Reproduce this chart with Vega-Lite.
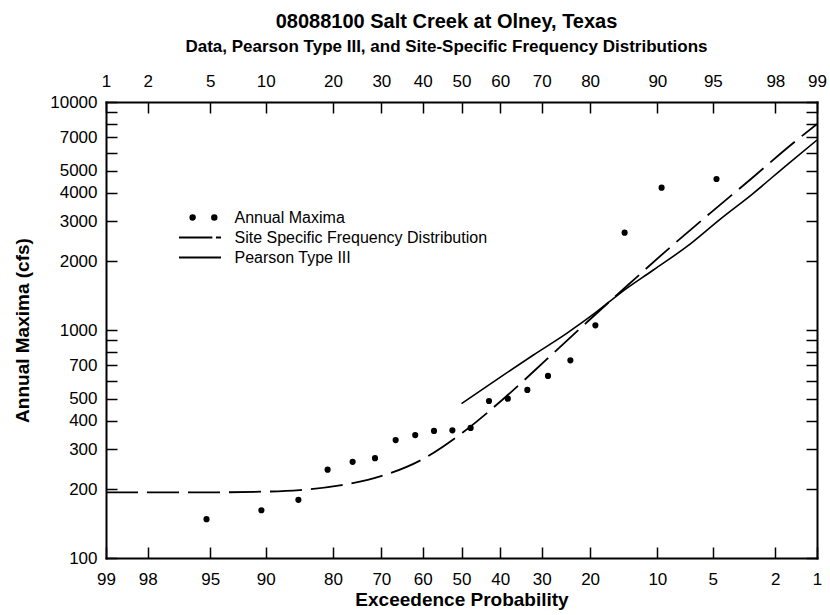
{
  "$schema": "https://vega.github.io/schema/vega-lite/v6.json",
  "width": 711,
  "height": 456,
  "autosize": {"type": "none"},
  "padding": {"left": 106, "top": 102, "right": 13, "bottom": 57},
  "background": "white",
  "title": {
    "text": "08088100 Salt Creek at Olney, Texas",
    "subtitle": "Data, Pearson Type III, and Site-Specific Frequency Distributions",
    "font": "Liberation Sans",
    "fontSize": 20,
    "fontWeight": "bold",
    "color": "black",
    "subtitleFont": "Liberation Sans",
    "subtitleFontSize": 17,
    "subtitleFontWeight": "bold",
    "subtitleColor": "black",
    "subtitlePadding": 7,
    "anchor": "middle",
    "dx": -15,
    "offset": 17
  },
  "config": {
    "view": {"stroke": null},
    "axis": {
      "domainColor": "black",
      "domainWidth": 2,
      "domainCap": "square",
      "tickColor": "black",
      "tickWidth": 1.5,
      "tickSize": -11,
      "grid": false,
      "labelFont": "Liberation Sans",
      "labelFontSize": 17,
      "labelColor": "black",
      "labelOverlap": false,
      "labelFlush": false,
      "titleFont": "Liberation Sans",
      "titleFontSize": 19,
      "titleFontWeight": "bold",
      "titleColor": "black"
    }
  },
  "datasets": {
    "maxima": [
      {"series": "Annual Maxima", "p": 95.24, "q": 148},
      {"series": "Annual Maxima", "p": 90.48, "q": 162},
      {"series": "Annual Maxima", "p": 85.71, "q": 180},
      {"series": "Annual Maxima", "p": 80.95, "q": 244},
      {"series": "Annual Maxima", "p": 76.19, "q": 264},
      {"series": "Annual Maxima", "p": 71.43, "q": 274},
      {"series": "Annual Maxima", "p": 66.67, "q": 329},
      {"series": "Annual Maxima", "p": 61.90, "q": 346},
      {"series": "Annual Maxima", "p": 57.14, "q": 361},
      {"series": "Annual Maxima", "p": 52.38, "q": 363},
      {"series": "Annual Maxima", "p": 47.62, "q": 372},
      {"series": "Annual Maxima", "p": 42.86, "q": 488},
      {"series": "Annual Maxima", "p": 38.10, "q": 500},
      {"series": "Annual Maxima", "p": 33.33, "q": 546},
      {"series": "Annual Maxima", "p": 28.57, "q": 629},
      {"series": "Annual Maxima", "p": 23.81, "q": 736},
      {"series": "Annual Maxima", "p": 19.05, "q": 1048},
      {"series": "Annual Maxima", "p": 14.29, "q": 2672},
      {"series": "Annual Maxima", "p": 9.52, "q": 4209},
      {"series": "Annual Maxima", "p": 4.76, "q": 4596}
    ],
    "legend": [
      {"series": "Annual Maxima"},
      {"series": "Site Specific Frequency Distribution"},
      {"series": "Pearson Type III"}
    ],
    "site": [
      {"p": 99, "q": 194},
      {"p": 95.65, "q": 194},
      {"p": 89.5, "q": 195.7},
      {"p": 85.5, "q": 198.5},
      {"p": 78.7, "q": 208},
      {"p": 69.9, "q": 229},
      {"p": 59.9, "q": 272},
      {"p": 49.6, "q": 356},
      {"p": 39.3, "q": 497},
      {"p": 29.0, "q": 739},
      {"p": 20.6, "q": 1081},
      {"p": 13.8, "q": 1575},
      {"p": 8.72, "q": 2282},
      {"p": 5.2, "q": 3249},
      {"p": 2.91, "q": 4596},
      {"p": 1.535, "q": 6525},
      {"p": 1.0, "q": 8009}
    ],
    "pearson": [
      {"p": 50, "q": 475},
      {"p": 40.05, "q": 620},
      {"p": 31.9, "q": 777},
      {"p": 24.56, "q": 967},
      {"p": 18.8, "q": 1203},
      {"p": 14.98, "q": 1449},
      {"p": 10.47, "q": 1833},
      {"p": 7.03, "q": 2320},
      {"p": 4.535, "q": 3059},
      {"p": 2.81, "q": 3978},
      {"p": 1.666, "q": 5292},
      {"p": 1.0, "q": 6813}
    ]
  },
  "layer": [
    {
      "data": {"name": "maxima"},
      "transform": [{"calculate": "quantileNormal(1 - datum.p / 100)", "as": "z"}],
      "mark": {"type": "point", "filled": true, "color": "black", "opacity": 1, "size": 38, "shape": "circle"},
      "encoding": {
        "x": {
          "field": "z", "type": "quantitative",
          "scale": {"domain": [-2.3263478740408408, 2.3263478740408408], "nice": false, "zero": false},
          "axis": {
            "orient": "bottom",
            "values": [-2.3263478740408408, -2.053748910631823, -1.6448536269514729, -1.2815515655446004, -0.8416212335729142, -0.5244005127080407, -0.2533471031357997, 0, 0.2533471031357997, 0.5244005127080407, 0.8416212335729142, 1.2815515655446004, 1.6448536269514729, 2.053748910631823, 2.3263478740408408],
            "labelExpr": "'' + round(100 - 100 * cumulativeNormal(datum.value))",
            "labelPadding": 24,
            "title": "Exceedence Probability",
            "titleX": 355.5,
            "titleY": 47,
            "titleBaseline": "alphabetic"
          }
        },
        "y": {
          "field": "q", "type": "quantitative",
          "scale": {"type": "log", "domain": [100, 10000], "nice": false},
          "axis": {
            "orient": "left",
            "values": [100, 200, 300, 400, 500, 600, 700, 800, 900, 1000, 2000, 3000, 4000, 5000, 6000, 7000, 8000, 9000, 10000],
            "labelExpr": "indexof([600, 800, 900, 6000, 8000, 9000], datum.value) >= 0 ? '' : '' + datum.value",
            "labelPadding": 20,
            "title": "Annual Maxima (cfs)",
            "titleX": -84,
            "titleY": 228,
            "titleBaseline": "middle",
            "titleAngle": -90
          }
        }
      }
    },
    {
      "data": {"name": "legend"},
      "transform": [{"filter": "false"}],
      "mark": {"type": "point", "filled": false, "color": "black", "opacity": 1, "strokeWidth": 1.8},
      "encoding": {
        "shape": {
          "field": "series", "type": "nominal",
          "scale": {
            "domain": ["Annual Maxima", "Site Specific Frequency Distribution", "Pearson Type III"],
            "range": [
              "M-0.92,0a0.22,0.22 0 1,0 0.44,0a0.22,0.22 0 1,0 -0.44,0ZM-0.8,0a0.1,0.1 0 1,0 0.2,0a0.1,0.1 0 1,0 -0.2,0ZM1.14,0a0.22,0.22 0 1,0 0.44,0a0.22,0.22 0 1,0 -0.44,0ZM1.26,0a0.1,0.1 0 1,0 0.2,0a0.1,0.1 0 1,0 -0.2,0Z",
              "M-2,0H1.18M1.52,0H2",
              "M-2,0H2"
            ]
          },
          "legend": {
            "title": null,
            "orient": "none",
            "legendX": 82.5,
            "legendY": 104,
            "padding": 0,
            "rowPadding": 0,
            "symbolSize": 441,
            "symbolFillColor": "black",
            "symbolStrokeColor": "black",
            "symbolStrokeWidth": 1.8,
            "symbolOpacity": 1,
            "labelOffset": 23,
            "labelLimit": 0,
            "labelFont": "Liberation Sans",
            "labelFontSize": 16,
            "labelColor": "black"
          }
        }
      }
    },
    {
      "data": {"name": "site"},
      "transform": [{"calculate": "quantileNormal(1 - datum.p / 100)", "as": "z"}],
      "mark": {"type": "line", "color": "black", "strokeWidth": 1.8, "strokeDash": [32, 9], "interpolate": "monotone", "clip": true},
      "encoding": {
        "x": {
          "field": "z", "type": "quantitative",
          "scale": {"domain": [-2.3263478740408408, 2.3263478740408408], "nice": false, "zero": false},
          "axis": {
            "orient": "top",
            "values": [-2.3263478740408408, -2.053748910631823, -1.6448536269514729, -1.2815515655446004, -0.8416212335729142, -0.5244005127080407, -0.2533471031357997, 0, 0.2533471031357997, 0.5244005127080407, 0.8416212335729142, 1.2815515655446004, 1.6448536269514729, 2.053748910631823, 2.3263478740408408],
            "labelExpr": "'' + round(100 * cumulativeNormal(datum.value))",
            "labelPadding": 23,
            "title": null
          }
        },
        "y": {
          "field": "q", "type": "quantitative",
          "scale": {"type": "log", "domain": [100, 10000], "nice": false},
          "axis": {
            "orient": "right",
            "values": [100, 200, 300, 400, 500, 600, 700, 800, 900, 1000, 2000, 3000, 4000, 5000, 6000, 7000, 8000, 9000, 10000],
            "labels": false,
            "title": null
          }
        }
      }
    },
    {
      "data": {"name": "pearson"},
      "transform": [{"calculate": "quantileNormal(1 - datum.p / 100)", "as": "z"}],
      "mark": {"type": "line", "color": "black", "strokeWidth": 1.6, "interpolate": "monotone", "clip": true},
      "encoding": {
        "x": {
          "field": "z", "type": "quantitative",
          "scale": {"domain": [-2.3263478740408408, 2.3263478740408408], "nice": false, "zero": false},
          "axis": null
        },
        "y": {
          "field": "q", "type": "quantitative",
          "scale": {"type": "log", "domain": [100, 10000], "nice": false},
          "axis": null
        }
      }
    }
  ],
  "resolve": {"axis": {"x": "independent", "y": "independent"}}
}
